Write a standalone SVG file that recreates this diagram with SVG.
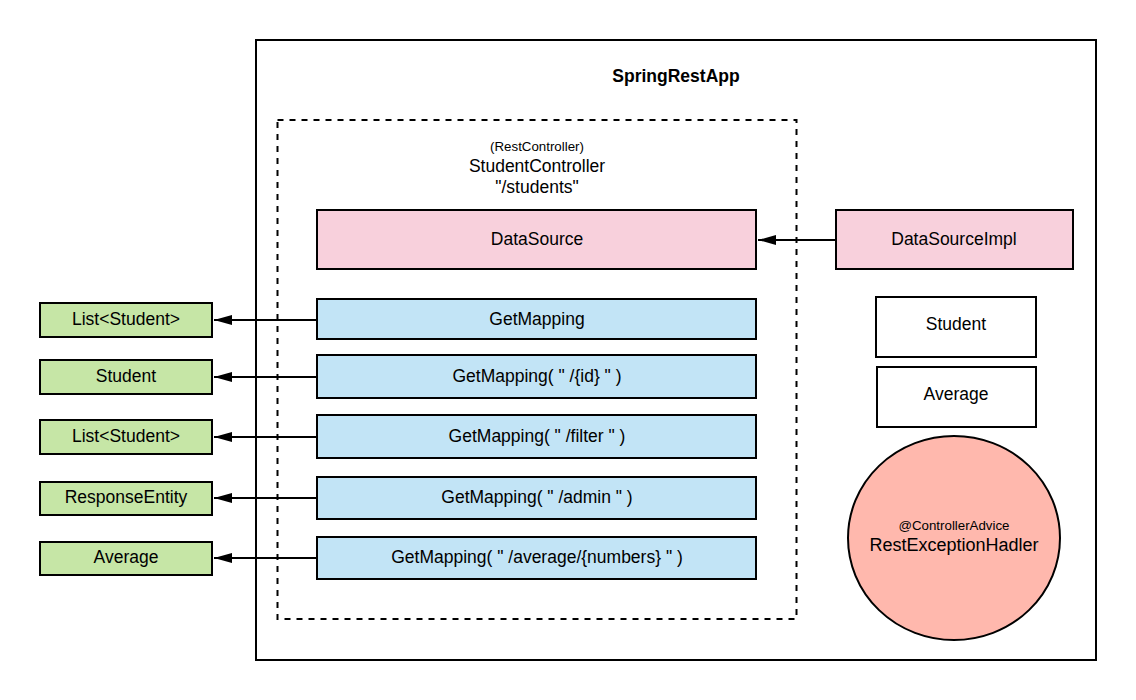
<svg xmlns="http://www.w3.org/2000/svg" width="1136" height="700" viewBox="0 0 1136 700">
<style>
text{font-family:"Liberation Sans",Arial,sans-serif;fill:#000;text-anchor:middle}
.b{stroke:#000;stroke-width:2}
.pink{fill:#f8d0dc}
.blue{fill:#c2e4f6}
.green{fill:#c6e6a6}
.t{font-size:17.5px}
.s{font-size:13.3px}
.c{stroke:#000;stroke-width:2;fill:none;marker-end:url(#ah)}
</style>
<defs>
<marker id="ah" viewBox="0 0 18 12" refX="18" refY="6" markerWidth="18" markerHeight="12" markerUnits="userSpaceOnUse" orient="auto">
<path d="M0,1 L18,6 L0,11 Z" fill="#000"/>
</marker>
</defs>
<rect width="1136" height="700" fill="#fff"/>
<g id="app">
<rect x="256" y="40" width="840" height="620" fill="#fff" class="b"/>
<text x="676" y="82" style="font-size:17.5px;font-weight:bold">SpringRestApp</text>
</g>
<g id="controller">
<rect x="277.5" y="120" width="519" height="499" fill="none" stroke="#000" stroke-width="2" stroke-dasharray="6 6"/>
<text x="537" y="151" class="s">(RestController)</text>
<text x="537" y="172" class="t">StudentController</text>
<text x="537" y="193" class="t">"/students"</text>
</g>
<g id="datasource"><rect x="317" y="210" width="439" height="59" class="b pink"/><text x="537" y="245" class="t">DataSource</text></g>
<g id="datasourceimpl"><rect x="836" y="210" width="237" height="59" class="b pink"/><text x="954" y="245" class="t">DataSourceImpl</text></g>
<g id="get1"><rect x="317" y="299" width="439" height="40" class="b blue"/><text x="537" y="325" class="t">GetMapping</text></g>
<g id="get2"><rect x="317" y="355" width="439" height="43" class="b blue"/><text x="537" y="382" class="t">GetMapping( " /{id} " )</text></g>
<g id="get3"><rect x="317" y="415" width="439" height="43" class="b blue"/><text x="537" y="442" class="t">GetMapping( " /filter " )</text></g>
<g id="get4"><rect x="317" y="477" width="439" height="42" class="b blue"/><text x="537" y="503" class="t">GetMapping( " /admin " )</text></g>
<g id="get5"><rect x="317" y="537" width="439" height="42" class="b blue"/><text x="537" y="563" class="t">GetMapping( " /average/{numbers} " )</text></g>
<g id="ret1"><rect x="40" y="303" width="172" height="34" class="b green"/><text x="126" y="325" class="t">List&lt;Student&gt;</text></g>
<g id="ret2"><rect x="40" y="360" width="172" height="34" class="b green"/><text x="126" y="382" class="t">Student</text></g>
<g id="ret3"><rect x="40" y="420" width="172" height="34" class="b green"/><text x="126" y="442" class="t">List&lt;Student&gt;</text></g>
<g id="ret4"><rect x="40" y="482" width="172" height="33" class="b green"/><text x="126" y="503" class="t">ResponseEntity</text></g>
<g id="ret5"><rect x="40" y="542" width="172" height="33" class="b green"/><text x="126" y="563" class="t">Average</text></g>
<g id="student"><rect x="876" y="297" width="160" height="60" class="b" fill="#fff"/><text x="956" y="330" class="t">Student</text></g>
<g id="average"><rect x="877" y="367" width="159" height="60" class="b" fill="#fff"/><text x="956" y="400" class="t">Average</text></g>
<g id="handler">
<ellipse cx="954" cy="538" rx="106" ry="102" fill="#ffb8ad" stroke="#000" stroke-width="2"/>
<text x="954" y="530" class="s">@ControllerAdvice</text>
<text x="954" y="551" style="font-size:18px">RestExceptionHadler</text>
</g>
<g id="connectors">
<path class="c" d="M836,240 H758"/>
<path class="c" d="M317,320 H214"/>
<path class="c" d="M317,377 H214"/>
<path class="c" d="M317,437 H214"/>
<path class="c" d="M317,498 H214"/>
<path class="c" d="M317,558 H214"/>
</g>
</svg>
